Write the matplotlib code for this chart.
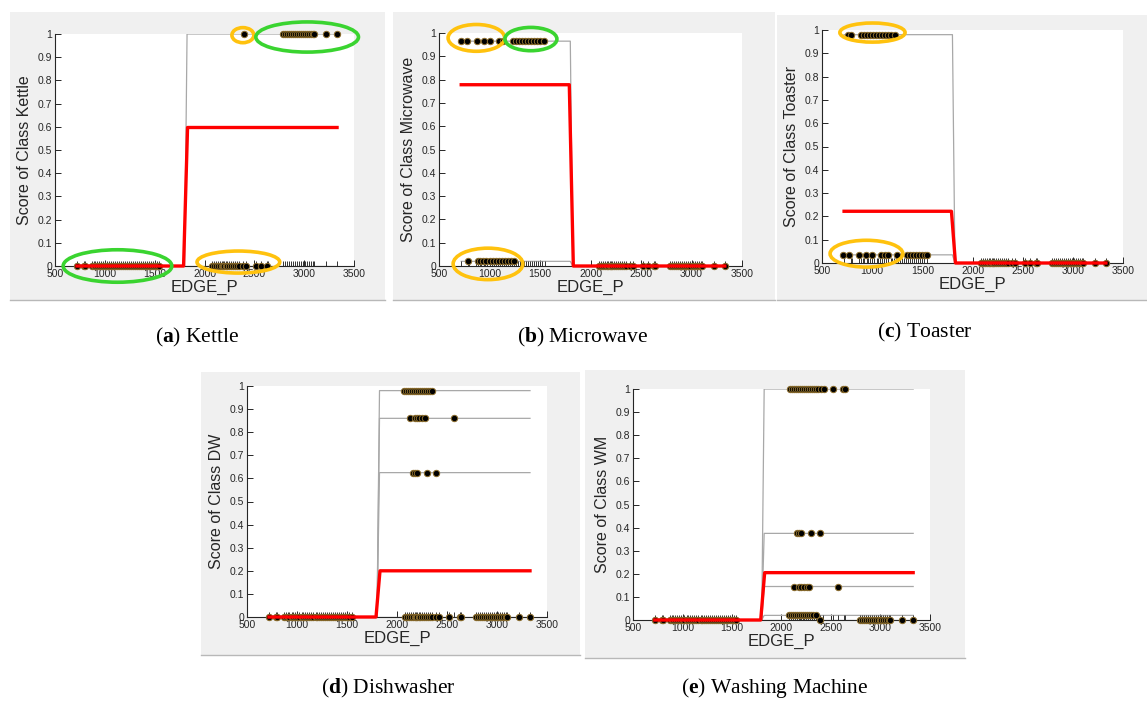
import matplotlib
matplotlib.use("Agg")
import matplotlib.pyplot as plt
from matplotlib.patches import Rectangle, Ellipse

W, H = 1147, 702

plt.rcParams['font.family'] = ['Liberation Sans', 'DejaVu Sans']
plt.rcParams['mathtext.fontset'] = 'custom'
plt.rcParams['mathtext.rm'] = 'Liberation Serif'
plt.rcParams['mathtext.bf'] = 'Liberation Serif:bold'

# EDGE_P observations, grouped by where they sit on the axis
low_x = [720, 790, 800, 870, 890, 905, 920, 945, 960, 980, 1000, 1020, 1045, 1060,
         1080, 1100, 1120, 1140, 1160, 1185, 1200, 1220, 1240, 1260, 1280, 1300,
         1320, 1340, 1360, 1380, 1400, 1420, 1440, 1460, 1480, 1500, 1520, 1545]
mid_x = [2080, 2100, 2120, 2140, 2160, 2175, 2190, 2200, 2215, 2230, 2250, 2270,
         2290, 2310, 2330, 2350, 2390, 2420]
mid_far_x = [2520, 2570, 2630, 2640]
high_x = [2790, 2810, 2830, 2850, 2870, 2890, 2910, 2930, 2950, 2970, 2990, 3010,
          3030, 3050, 3070, 3090, 3100, 3220, 3330]
rug_x = low_x + mid_x + mid_far_x + high_x

# partial dependence (red) and individual curves (grey): value left / right of the split
grid_pd = [720, 1790, 1830, 3330]
grid_ice = [720, 1800, 1825, 3330]

kettle_pd = (0.0, 0.597)
kettle_ice = [(0.0, 1.0), (0.0, 0.0)]
kettle_levels = [0.0, 1.0]
kettle_pts = [low_x + mid_x + mid_far_x[:3], [2400] + high_x]

micro_pd = (0.778, 0.0)
micro_ice = [(0.965, 0.0), (0.02, 0.0)]
micro_levels = [0.965, 0.02, 0.0]
micro_pts = [[718, 777, 876, 946, 1005, 1094, 1134, 1232, 1260, 1290, 1320, 1350,
              1380, 1410, 1440, 1470, 1500, 1539],
             [787, 886, 910, 940, 970, 1000, 1030, 1060, 1090, 1120, 1150, 1180,
              1210, 1242],
             mid_x + mid_far_x + high_x]

toast_pd = (0.222, 0.0)
toast_ice = [(0.98, 0.0), (0.035, 0.0)]
toast_levels = [0.98, 0.035, 0.0]
toast_pts = [[760, 790, 890, 920, 950, 980, 1010, 1040, 1070, 1100, 1130, 1160,
              1190, 1225],
             [710, 770, 870, 940, 1000, 1090, 1130, 1160, 1250, 1350, 1380, 1410,
              1440, 1470, 1500, 1530, 1550],
             mid_x + mid_far_x + high_x]

dw_pd = (0.0, 0.2)
dw_ice = [(0.0, 0.98), (0.0, 0.86), (0.0, 0.625), (0.0, 0.0)]
dw_levels = [0.98, 0.86, 0.625, 0.0]
dw_pts = [[2070, 2090, 2110, 2130, 2150, 2170, 2190, 2210, 2230, 2250, 2270, 2290,
           2310, 2330, 2350],
          [2130, 2180, 2200, 2220, 2250, 2280, 2570],
          [2160, 2180, 2200, 2300, 2390],
          low_x + mid_x + [2520, 2630, 2640] + high_x]

wm_pd = (0.0, 0.205)
wm_ice = [(0.0, 1.0), (0.0, 0.375), (0.0, 0.145), (0.0, 0.02), (0.0, 0.0)]
wm_levels = [1.0, 0.375, 0.145, 0.022, 0.0]
wm_pts = [[2090, 2110, 2130, 2150, 2170, 2190, 2210, 2230, 2250, 2270, 2290, 2310,
           2330, 2350, 2370, 2400, 2430, 2520, 2620, 2640],
          [2160, 2180, 2200, 2300, 2390],
          [2130, 2180, 2200, 2230, 2260, 2280, 2570],
          [2080, 2100, 2120, 2140, 2160, 2180, 2200, 2220, 2240, 2260, 2280, 2300,
           2320, 2350],
          low_x + [2390] + high_x]

GREEN = '#3ad430'
ORANGE = '#ffc20e'

fig = plt.figure(figsize=(W / 100, H / 100), dpi=100)
fig.patch.set_facecolor('white')


def bg(l, t, r, b):
    fig.patches.append(Rectangle((l / W, 1 - b / H), (r - l) / W, (b - t) / H,
                                 transform=fig.transFigure, facecolor='#f0f0f0',
                                 edgecolor='none', zorder=-2))
    fig.lines.append(plt.Line2D([l / W, r / W], [1 - b / H, 1 - b / H],
                                transform=fig.transFigure, color='#b8b8b8', lw=1,
                                zorder=-1))


def panel(l, t, r, b, name, pd, ice, levels, pts, rings=()):
    ax = fig.add_axes([l / W, 1 - b / H, (r - l) / W, (b - t) / H])
    ax.set_xlim(500, 3500)
    ax.set_ylim(0, 1)
    for left, right in ice:
        ax.plot(grid_ice, [left, left, right, right], color='#a8a8a8', lw=0.9, zorder=2)
    ax.vlines(rug_x, 0, 0.022, color='#333333', lw=0.7, zorder=2)
    for lev, xs in zip(levels, pts):
        ax.plot(xs, [lev] * len(xs), 'o', ms=4.6, mfc='black', mec='#8c6d2c',
                mew=0.7, clip_on=False, zorder=3)
    ax.plot(grid_pd, [pd[0], pd[0], pd[1], pd[1]], color='red', lw=2.4, zorder=4,
            clip_on=False)
    for cx, cy, w, h, col in rings:
        ax.add_patch(Ellipse((cx, cy), w, h, fill=False, edgecolor=col, lw=2.6,
                             clip_on=False, zorder=5))
    for s in ['top', 'right']:
        ax.spines[s].set_visible(False)
    for s in ['left', 'bottom']:
        ax.spines[s].set_color('#262626')
        ax.spines[s].set_linewidth(0.8)
    ax.set_xticks(range(500, 3501, 500))
    ax.set_yticks([i / 10 for i in range(11)])
    ax.set_yticklabels(['0'] + ['%.1f' % (i / 10) for i in range(1, 10)] + ['1'])
    ax.tick_params(direction='in', length=4, width=0.7, labelsize=7.5,
                   labelcolor='#262626', color='#262626', pad=2)
    ax.set_ylabel('Score of Class ' + name, fontsize=11.5, color='#262626', labelpad=4)
    ax.set_xlabel('EDGE_P', fontsize=12, color='#262626', labelpad=1)
    return ax


bg(10, 12, 385, 300)
bg(393, 12, 775, 300)
bg(777, 15, 1147, 300)
bg(201, 372, 580, 655)
bg(585, 370, 965, 658)

panel(55, 34, 354, 266, 'Kettle', kettle_pd, kettle_ice, kettle_levels, kettle_pts,
      rings=[(1127, 0.0, 1090, 0.14, GREEN), (2340, 0.017, 830, 0.095, ORANGE),
             (2385, 0.995, 220, 0.065, ORANGE), (3030, 0.987, 1030, 0.13, GREEN)])
panel(439, 33, 742, 266, 'Microwave', micro_pd, micro_ice, micro_levels, micro_pts,
      rings=[(870, 0.979, 560, 0.115, ORANGE), (1410, 0.974, 515, 0.10, GREEN),
             (985, 0.009, 690, 0.135, ORANGE)])
panel(822, 30, 1123, 263, 'Toaster', toast_pd, toast_ice, toast_levels, toast_pts,
      rings=[(1003, 0.989, 650, 0.082, ORANGE), (943, 0.04, 725, 0.115, ORANGE)])
panel(247, 386, 547, 617, 'DW', dw_pd, dw_ice, dw_levels, dw_pts)
panel(633, 389, 930, 620, 'WM', wm_pd, wm_ice, wm_levels, wm_pts)

captions = [('a', 'Kettle', 197, 337), ('b', 'Microwave', 582, 337),
            ('c', 'Toaster', 925, 332), ('d', 'Dishwasher', 388, 688),
            ('e', 'Washing Machine', 775, 688)]
for letter, text, x, y in captions:
    fig.text(x / W, 1 - y / H, r'($\mathbf{%s}$) %s' % (letter, text),
             family='Liberation Serif', fontsize=15.5, ha='center', va='center')

fig.savefig('out.png', dpi=100)
